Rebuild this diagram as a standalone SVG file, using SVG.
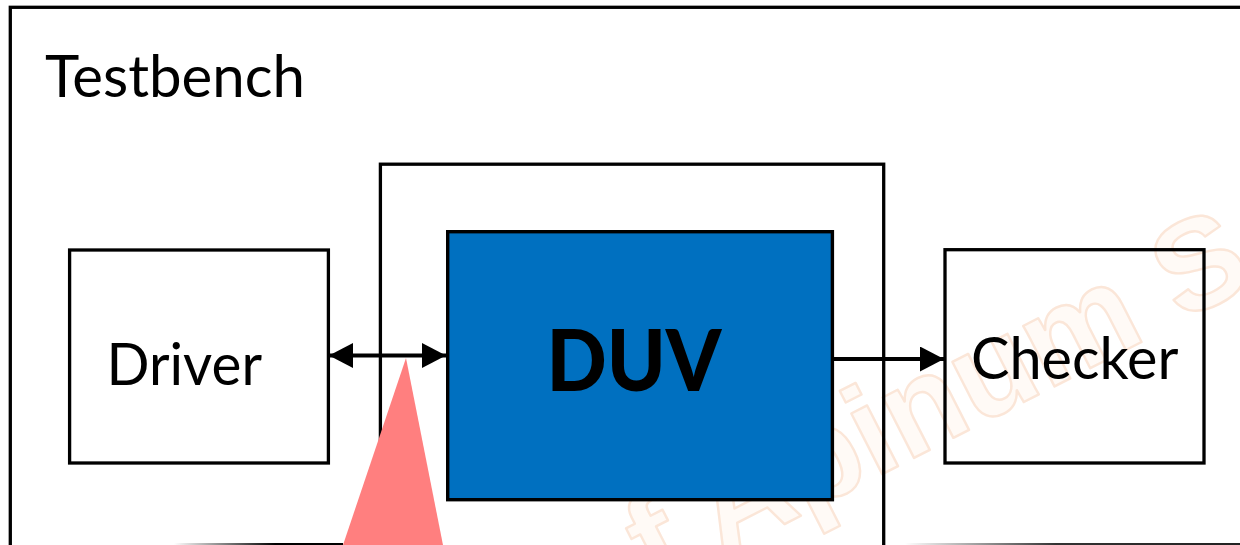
<svg xmlns="http://www.w3.org/2000/svg" width="1240" height="545" viewBox="0 0 1240 545">
  <style>
    .box { fill: none; stroke: #000; stroke-width: 3.3; }
    .lbl { font-family: Lato, "Open Sans", "Liberation Sans", sans-serif; font-size: 58px; fill: #000; }
    .big { font-family: Lato, "Open Sans", "Liberation Sans", sans-serif; font-size: 85px; font-weight: 900; fill: #000; }
    .wire { stroke: #000; stroke-width: 3.8; fill: none; }
    .wm { font-family: "Liberation Sans", Arial, sans-serif; font-size: 129px; font-weight: bold; fill: #fffaf6; stroke: #fbe6d8; stroke-width: 2.4; stroke-linejoin: round; }
  </style>
  <defs>
    <marker id="ah" markerUnits="userSpaceOnUse" markerWidth="26" markerHeight="27" refX="24" refY="12.5" orient="auto-start-reverse">
      <path d="M0,0 L24,12.5 L0,25 z" fill="#000"/>
    </marker>
    <linearGradient id="gL" x1="174" y1="0" x2="343" y2="0" gradientUnits="userSpaceOnUse">
      <stop offset="0" stop-color="#fff"/>
      <stop offset="0.6" stop-color="#000"/>
      <stop offset="1" stop-color="#000"/>
    </linearGradient>
    <linearGradient id="gR" x1="905" y1="0" x2="1240" y2="0" gradientUnits="userSpaceOnUse">
      <stop offset="0" stop-color="#fff"/>
      <stop offset="0.45" stop-color="#333"/>
      <stop offset="1" stop-color="#222"/>
    </linearGradient>
  </defs>

  <rect width="1240" height="545" fill="#fff"/>

  <g id="watermark">
    <text class="wm" transform="translate(655,590) rotate(-27)">f Apinum S</text>
  </g>

  <g id="testbench">
    <rect class="box" x="10.3" y="7.3" width="1300" height="600"/>
    <text class="lbl" x="45" y="96.7" textLength="260" lengthAdjust="spacingAndGlyphs">Testbench</text>
  </g>

  <g id="wrapper">
    <rect class="box" x="380.4" y="164.2" width="503.3" height="450"/>
  </g>

  <g id="driver">
    <rect class="box" x="69.6" y="250" width="258.8" height="213"/>
    <text class="lbl" x="106.5" y="385" textLength="155.5" lengthAdjust="spacingAndGlyphs">Driver</text>
  </g>

  <g id="duv">
    <rect x="447.7" y="231.7" width="384.7" height="268" fill="#0070c0" stroke="#000" stroke-width="3.4"/>
    <text class="big" x="546.5" y="390.7" textLength="175" lengthAdjust="spacingAndGlyphs">DUV</text>
  </g>

  <g id="checker">
    <rect class="box" x="945" y="249.7" width="259" height="213.3"/>
    <text class="lbl" x="971" y="379.3" textLength="207.5" lengthAdjust="spacingAndGlyphs">Checker</text>
  </g>

  <g id="connectors">
    <line class="wire" x1="329" y1="355.5" x2="446" y2="355.5" marker-start="url(#ah)" marker-end="url(#ah)"/>
    <line class="wire" x1="834" y1="359" x2="944" y2="359" marker-end="url(#ah)"/>
  </g>

  <g id="pointer">
    <polygon points="406,358 443,545 343,545" fill="#ff7f7f"/>
  </g>

  <g id="bottom-edges">
    <line x1="174" y1="544" x2="343" y2="544" stroke="url(#gL)" stroke-width="2"/>
    <line x1="905" y1="544" x2="1240" y2="544" stroke="url(#gR)" stroke-width="2"/>
  </g>
</svg>
